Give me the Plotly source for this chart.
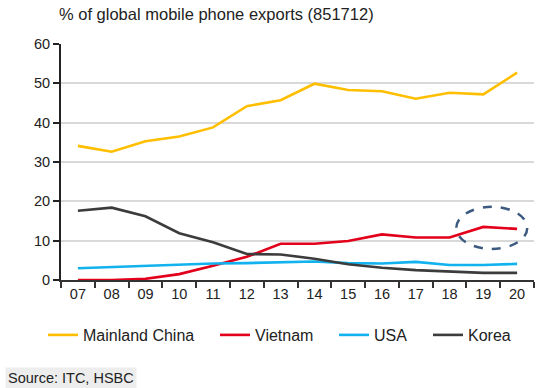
import plotly.graph_objects as go

years = ["07", "08", "09", "10", "11", "12", "13", "14", "15", "16", "17", "18", "19", "20"]
china = [34.1, 32.6, 35.3, 36.5, 38.8, 44.2, 45.7, 49.9, 48.3, 48.0, 46.1, 47.6, 47.2, 52.7]
vietnam = [0.0, 0.0, 0.3, 1.5, 3.6, 5.9, 9.2, 9.2, 9.9, 11.6, 10.8, 10.8, 13.5, 13.0]
usa = [3.0, 3.3, 3.7, 4.0, 4.2, 4.3, 4.5, 4.7, 4.3, 4.2, 4.6, 3.8, 3.8, 4.1]
korea = [17.6, 18.4, 16.2, 11.9, 9.6, 6.6, 6.5, 5.4, 4.0, 3.1, 2.5, 2.2, 1.8, 1.8]

series = [
    ("Mainland China", china, "#FFBF00"),
    ("Vietnam", vietnam, "#E3001B"),
    ("USA", usa, "#12B2EE"),
    ("Korea", korea, "#3C3C3C"),
]
legend_left_px = [43, 215, 334, 428]

fig = go.Figure()
legend_layouts = {}
for i, (name, vals, col) in enumerate(series):
    lg = "legend" if i == 0 else f"legend{i + 1}"
    fig.add_trace(go.Scatter(x=years, y=vals, mode="lines", name=name, legend=lg,
                             line=dict(color=col, width=2.6)))
    legend_layouts[lg] = dict(orientation="h", xref="container", yref="container",
                              x=legend_left_px[i] / 552, xanchor="left",
                              y=1 - 335 / 388, yanchor="middle",
                              font=dict(size=16, color="#222222"),
                              bgcolor="rgba(0,0,0,0)", borderwidth=0)

font_family = "Liberation Sans, Arial, sans-serif"
plot_w = 552 - 61 - 18
plot_h = 388 - 44 - 108

fig.update_layout(
    width=552, height=388,
    margin=dict(l=61, r=18, t=44, b=108),
    paper_bgcolor="white", plot_bgcolor="white",
    font=dict(family=font_family, size=14, color="#222222"),
    showlegend=True,
    xaxis=dict(type="category", range=[-0.5, 13.5], showgrid=False,
               showline=True, linecolor="#333333", linewidth=2,
               ticks="outside", tickson="boundaries", ticklen=6, tickwidth=1.5,
               tickcolor="#333333", tickfont=dict(size=14.5, color="#222222")),
    yaxis=dict(range=[0, 60], dtick=10, showgrid=True, gridcolor="#D9D9D9", gridwidth=1.5,
               showline=True, linecolor="#222222", linewidth=2, zeroline=False,
               ticks="outside", ticklen=6, tickwidth=1.5, tickcolor="#222222",
               tickfont=dict(size=14.5, color="#222222")),
    shapes=[dict(type="circle", xref="x", yref="y", x0=11.2, x1=13.3, y0=7.9, y1=18.6,
                 line=dict(color="#3D5A80", width=2.5, dash="dash"))],
    annotations=[
        dict(text="% of global mobile phone exports (851712)", xref="paper", yref="paper",
             x=(57 - 61) / plot_w, y=1.0, xanchor="left", yanchor="middle", yshift=44 - 14,
             showarrow=False, font=dict(size=16.5, color="#222222")),
        dict(text="Source: ITC, HSBC", xref="paper", yref="paper", x=(5 - 61) / plot_w,
             xanchor="left", y=-(378 - 280) / plot_h, yanchor="middle", showarrow=False,
             bgcolor="#EDEDED", borderpad=2, font=dict(size=14.5, color="#222222")),
    ],
)
fig.update_layout(**legend_layouts)

fig.write_html("out.html", config={"displayModeBar": False},
               post_script="document.body.style.margin='0px';")
